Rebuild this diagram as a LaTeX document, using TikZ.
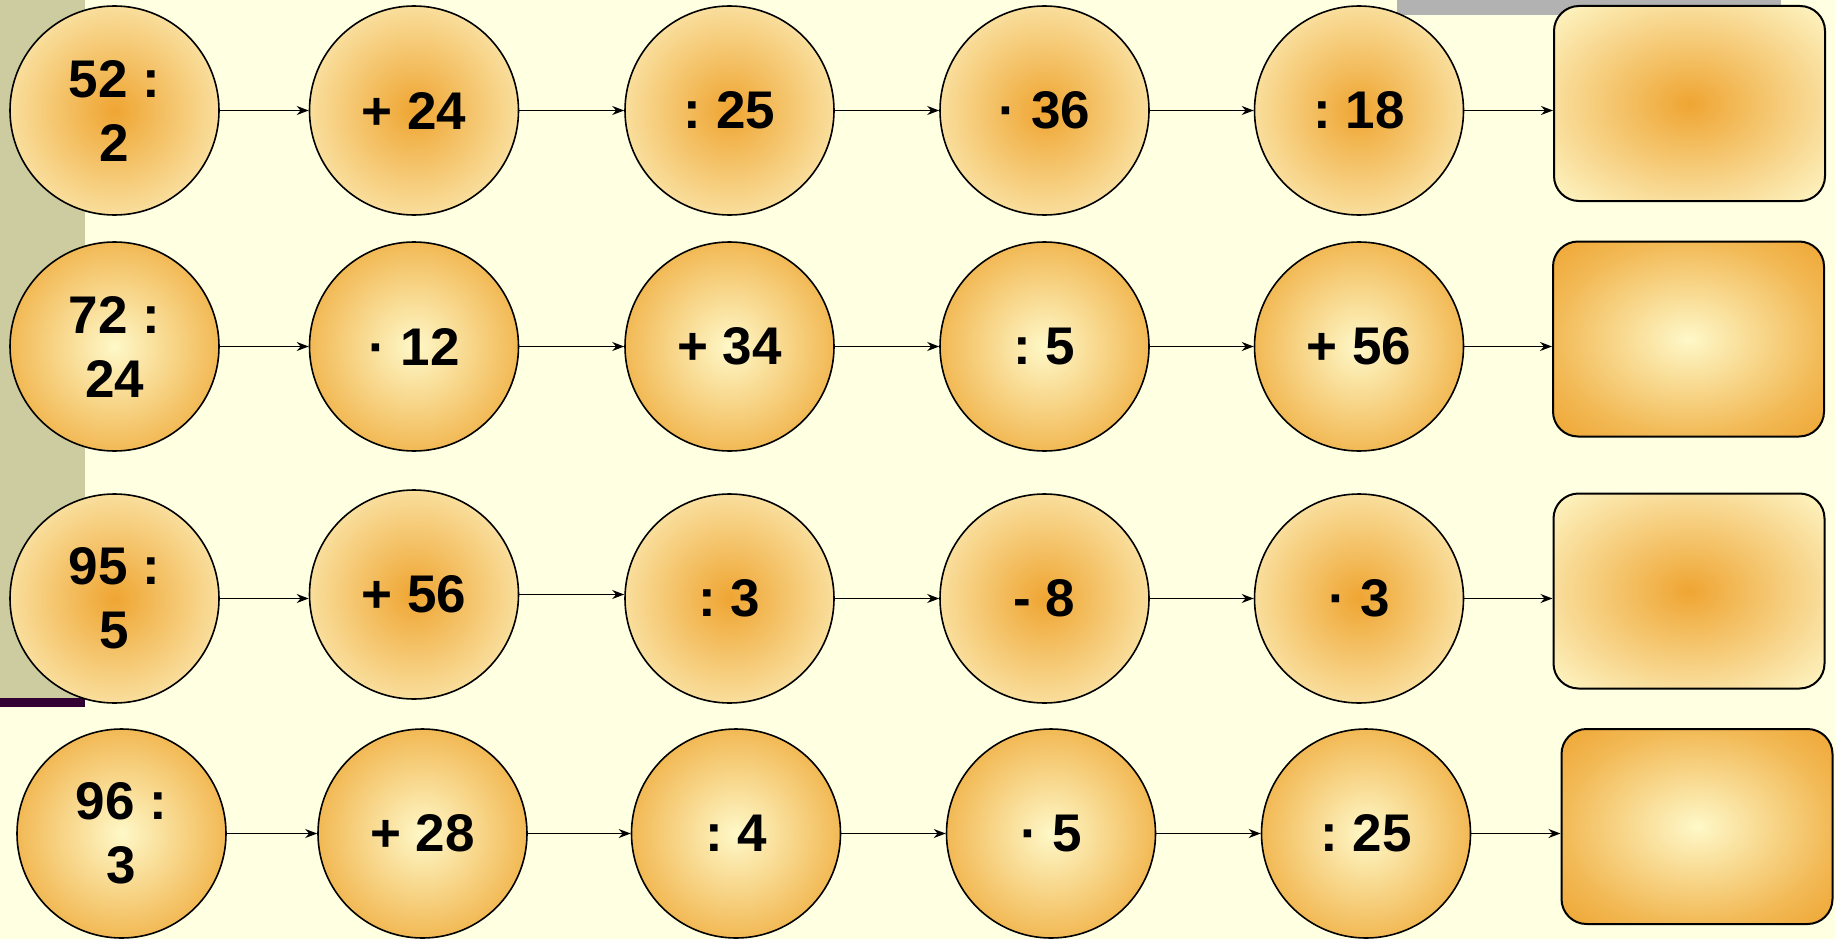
\documentclass[tikz,border=0pt]{standalone}
\usepackage{fontspec}
\setmainfont{Liberation Sans}
\frenchspacing
\usetikzlibrary{positioning,arrows.meta}
\definecolor{paperFill}{HTML}{FFFFE1}
\definecolor{sideOlive}{HTML}{CCCCA0}
\definecolor{barPlum}{HTML}{330033}
\definecolor{barGray}{HTML}{B2B2B2}
\definecolor{glowDeep}{HTML}{EFA532}
\definecolor{glowWarm}{HTML}{F2B955}
\definecolor{glowSoft}{HTML}{F9DE9C}
\definecolor{glowPale}{HTML}{FEF8C8}
\pgfdeclareradialshading{emberShade}{\pgfpointorigin}{color(0bp)=(glowDeep); color(25bp)=(glowSoft); color(36bp)=(glowPale); color(50bp)=(glowPale)}
\pgfdeclareradialshading{haloShade}{\pgfpointorigin}{color(0bp)=(glowPale); color(25bp)=(glowWarm); color(36bp)=(glowDeep); color(50bp)=(glowDeep)}

\begin{document}
\begin{tikzpicture}[
  x=1pt, y=-1pt,
  op/.style     ={circle, draw, line width=1.6pt, minimum size=209pt, inner sep=0pt, align=center, font=\fontsize{53}{64}\selectfont\bfseries\frenchspacing},
  ember/.style  ={op, shade, shading=emberShade},
  halo/.style   ={op, shade, shading=haloShade},
  res/.style    ={rectangle, draw, line width=2pt, rounded corners=25pt, minimum width=271pt, minimum height=195pt},
  emberbox/.style={res, shade, shading=emberShade},
  halobox/.style ={res, shade, shading=haloShade},
  flow/.style   ={-{Stealth[length=12pt,width=9pt]}, line width=1.4pt},
]
\useasboundingbox (0,0) rectangle (1835,939);

% ==================== Slide background ====================
\fill[paperFill] (0,0) rectangle (1835,939);
\fill[sideOlive] (0,0) rectangle (85,698);
\fill[barPlum] (0,698) rectangle (85,707);
\fill[barGray] (1397,0) rectangle (1781,15);

% ==================== Row 1 ====================
\node[ember] (a1) at (114.5,110.5)  {52 :\\2};
\node[ember] (a2) at (414,110.5)    {+ 24};
\node[ember] (a3) at (729.5,110.5)  {: 25};
\node[ember] (a4) at (1044.5,110.5) {· 36};
\node[ember] (a5) at (1359,110.5)   {: 18};
\node[emberbox] (aout) at (1689.5,103.5) {};

% ==================== Row 2 ====================
\node[halo] (b1) at (114.5,346.5)  {72 :\\24};
\node[halo] (b2) at (414,346.5)    {· 12};
\node[halo] (b3) at (729.5,346.5)  {+ 34};
\node[halo] (b4) at (1044.5,346.5) {: 5};
\node[halo] (b5) at (1359,346.5)   {+ 56};
\node[halobox] (bout) at (1688.5,339) {};

% ==================== Row 3 ====================
\node[ember] (c1) at (114.5,598.5)  {95 :\\5};
\node[ember] (c2) at (414,594.5)    {+ 56};
\node[ember] (c3) at (729.5,598.5)  {: 3};
\node[ember] (c4) at (1044.5,598.5) {- 8};
\node[ember] (c5) at (1359,598.5)   {· 3};
\node[emberbox] (cout) at (1689,591) {};

% ==================== Row 4 ====================
\node[halo] (d1) at (121.5,833.5)  {96 :\\3};
\node[halo] (d2) at (422.5,833.5)  {+ 28};
\node[halo] (d3) at (736,833.5)    {: 4};
\node[halo] (d4) at (1051,833.5)   {· 5};
\node[halo] (d5) at (1366,833.5)   {: 25};
\node[halobox] (dout) at (1697,826.5) {};

% ==================== Arrows ====================
\foreach \r in {a,b,c,d}{
  \foreach \i/\j in {1/2,2/3,3/4,4/5,5/out}{
    \draw[flow] (\r\i.east) -- (\r\i.east -| \r\j.west);
  }
}

\end{tikzpicture}
\end{document}
